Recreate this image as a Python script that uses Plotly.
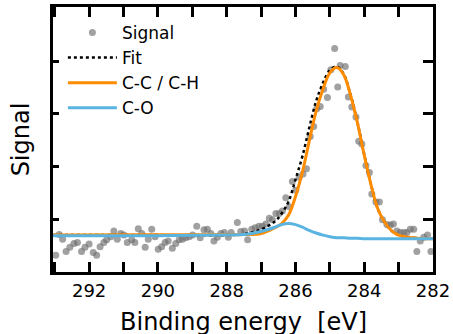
import plotly.graph_objects as go

# ---- measured signal points (binding energy [eV], signal [a.u.]) ----
sig_x = [292.97, 292.87, 292.77, 292.67, 292.56, 292.44, 292.34, 292.22, 292.12, 292.00,
         291.88, 291.78, 291.68, 291.57, 291.49, 291.37, 291.28, 291.18, 291.08, 290.99,
         290.89, 290.76, 290.67, 290.57, 290.47, 290.37, 290.28, 290.18, 290.08, 289.99,
         289.89, 289.79, 289.70, 289.58, 289.48, 289.38, 289.29, 289.19, 289.09, 288.99,
         288.87, 288.77, 288.66, 288.56, 288.46, 288.37, 288.27, 288.17, 288.07, 287.95,
         287.87, 287.69, 287.59, 287.48, 287.39, 287.27, 287.17, 287.06, 286.96, 286.86,
         286.76, 286.67, 286.57, 286.47, 286.38, 286.28, 286.18, 286.09, 285.99, 285.89,
         285.78, 285.68, 285.57, 285.47, 285.38, 285.28, 285.18, 285.07, 284.97, 284.86,
         284.77, 284.70, 284.55, 284.46, 284.36, 284.24, 284.16, 284.07, 283.95, 283.85,
         283.78, 283.66, 283.56, 283.47, 283.34, 283.24, 283.15, 283.05, 282.95, 282.85,
         282.76, 282.66, 282.56, 282.47, 282.37, 282.27, 282.16, 282.06]
sig_y = [0.32, 0.71, 0.62, 0.39, 0.47, 0.54, 0.56, 0.39, 0.47, 0.53,
         0.37, 0.32, 0.48, 0.56, 0.61, 0.67, 0.78, 0.62, 0.73, 0.70,
         0.56, 0.61, 0.56, 0.82, 0.73, 0.47, 0.62, 0.81, 0.67, 0.43,
         0.48, 0.56, 0.59, 0.45, 0.54, 0.61, 0.62, 0.65, 0.67, 0.70,
         0.87, 0.65, 0.80, 0.81, 0.73, 0.59, 0.66, 0.73, 0.75, 0.66,
         0.75, 0.94, 0.77, 0.78, 0.61, 0.81, 0.84, 0.87, 0.87, 0.91,
         1.02, 0.99, 1.11, 1.11, 1.16, 1.41, 1.24, 1.72, 1.55, 1.80,
         1.86, 1.96, 2.57, 2.76, 3.10, 3.14, 3.47, 3.31, 3.84, 4.24,
         3.51, 3.92, 3.90, 3.32, 3.13, 2.94, 2.48, 2.43, 2.02, 1.89,
         1.48, 1.33, 1.33, 0.99, 0.90, 0.89, 0.91, 0.78, 0.75, 0.75,
         0.75, 0.81, 0.81, 0.39, 0.59, 0.66, 0.70, 0.39]

# ---- fitted curves ----
fit_x = [293.05, 290.0, 288.0, 287.5, 287.0, 286.6, 286.4, 286.2, 286.0, 285.8,
         285.6, 285.4, 285.2, 285.0, 284.8, 284.6, 284.4, 284.2, 284.0, 283.8,
         283.6, 283.4, 283.2, 283.0, 282.6, 282.0]
cc_y = [0.70, 0.705, 0.705, 0.71, 0.73, 0.84, 0.92, 1.08, 1.43, 1.89,
        2.48, 3.05, 3.47, 3.78, 3.88, 3.75, 3.36, 2.84, 2.22, 1.65,
        1.19, 0.94, 0.78, 0.70, 0.65, 0.63]
co_y = [0.69, 0.69, 0.70, 0.71, 0.77, 0.85, 0.90, 0.92, 0.90, 0.85,
        0.79, 0.74, 0.70, 0.67, 0.65, 0.65, 0.64, 0.64, 0.63, 0.63,
        0.63, 0.63, 0.63, 0.63, 0.63, 0.63]
tot_y = [0.70, 0.70, 0.70, 0.72, 0.81, 0.96, 1.11, 1.34, 1.75, 2.19,
         2.73, 3.24, 3.59, 3.83, 3.90, 3.76, 3.37, 2.85, 2.23, 1.65,
         1.19, 0.94, 0.78, 0.70, 0.65, 0.63]

x_ticks = [292, 290, 288, 286, 284, 282]
y_ticks = [1, 2, 3, 4]

FONT = "DejaVu Sans"

fig = go.Figure()
fig.add_trace(go.Scatter(x=sig_x, y=sig_y, mode="markers", name="Signal",
                         marker=dict(size=7, color="rgba(110,110,110,0.65)", line=dict(width=0))))
fig.add_trace(go.Scatter(x=fit_x, y=tot_y, mode="lines", name="Fit", line_shape="spline",
                         line=dict(color="black", width=2.5, dash="dot")))
fig.add_trace(go.Scatter(x=fit_x, y=cc_y, mode="lines", name="C-C / C-H", line_shape="spline",
                         line=dict(color="#FF8C00", width=3)))
fig.add_trace(go.Scatter(x=fit_x, y=co_y, mode="lines", name="C-O", line_shape="spline",
                         line=dict(color="#5AB4E2", width=3)))
# invisible trace for right-hand y ticks
fig.add_trace(go.Scatter(x=[fit_x[0]], y=[cc_y[0]], yaxis="y2", mode="markers",
                         marker=dict(opacity=0), showlegend=False, hoverinfo="skip"))

fig.update_layout(
    width=453, height=334,
    margin=dict(l=53, r=20, t=7, b=62, autoexpand=False),
    paper_bgcolor="white", plot_bgcolor="white",
    font=dict(family=FONT, color="black", size=18),
    showlegend=True,
    legend=dict(x=0.026, y=0.97, xanchor="left", yanchor="top",
                bgcolor="rgba(0,0,0,0)", font=dict(size=17), itemwidth=49,
                tracegroupgap=0),
    xaxis=dict(range=[293.05, 282], tickvals=x_ticks, ticks="inside", ticklen=10,
               tickwidth=2.5, tickcolor="black", showline=True, linecolor="black",
               linewidth=2.5, mirror="allticks", showgrid=False, zeroline=False,
               tickfont=dict(size=18), automargin=False, ticklabeloverflow="allow",
               ticklabelstandoff=1,
               minor=dict(dtick=1, ticks="inside", ticklen=6, tickwidth=2.5,
                          tickcolor="black", showgrid=False)),
    yaxis=dict(range=[0, 5.03], tickvals=y_ticks, ticks="inside", ticklen=6,
               tickwidth=2.5, tickcolor="black", showticklabels=False,
               showline=True, linecolor="black", linewidth=2.5, mirror=True,
               showgrid=False, zeroline=False, automargin=False,
               title=dict(text="Signal", font=dict(size=24), standoff=14)),
    yaxis2=dict(range=[0, 5.03], tickvals=y_ticks, ticks="inside", ticklen=10,
                tickwidth=2.5, tickcolor="black", showticklabels=False,
                overlaying="y", side="right", showline=False, showgrid=False,
                zeroline=False, automargin=False),
    annotations=[dict(text="Binding energy\u00a0\u00a0[eV]", xref="paper", yref="paper",
                      x=0.5, y=-0.130, xanchor="center", yanchor="top",
                      showarrow=False, font=dict(size=24))],
)

fig.write_html("out.html", config={"displayModeBar": False},
               post_script="document.body.style.margin='0';document.body.style.padding='0';")
